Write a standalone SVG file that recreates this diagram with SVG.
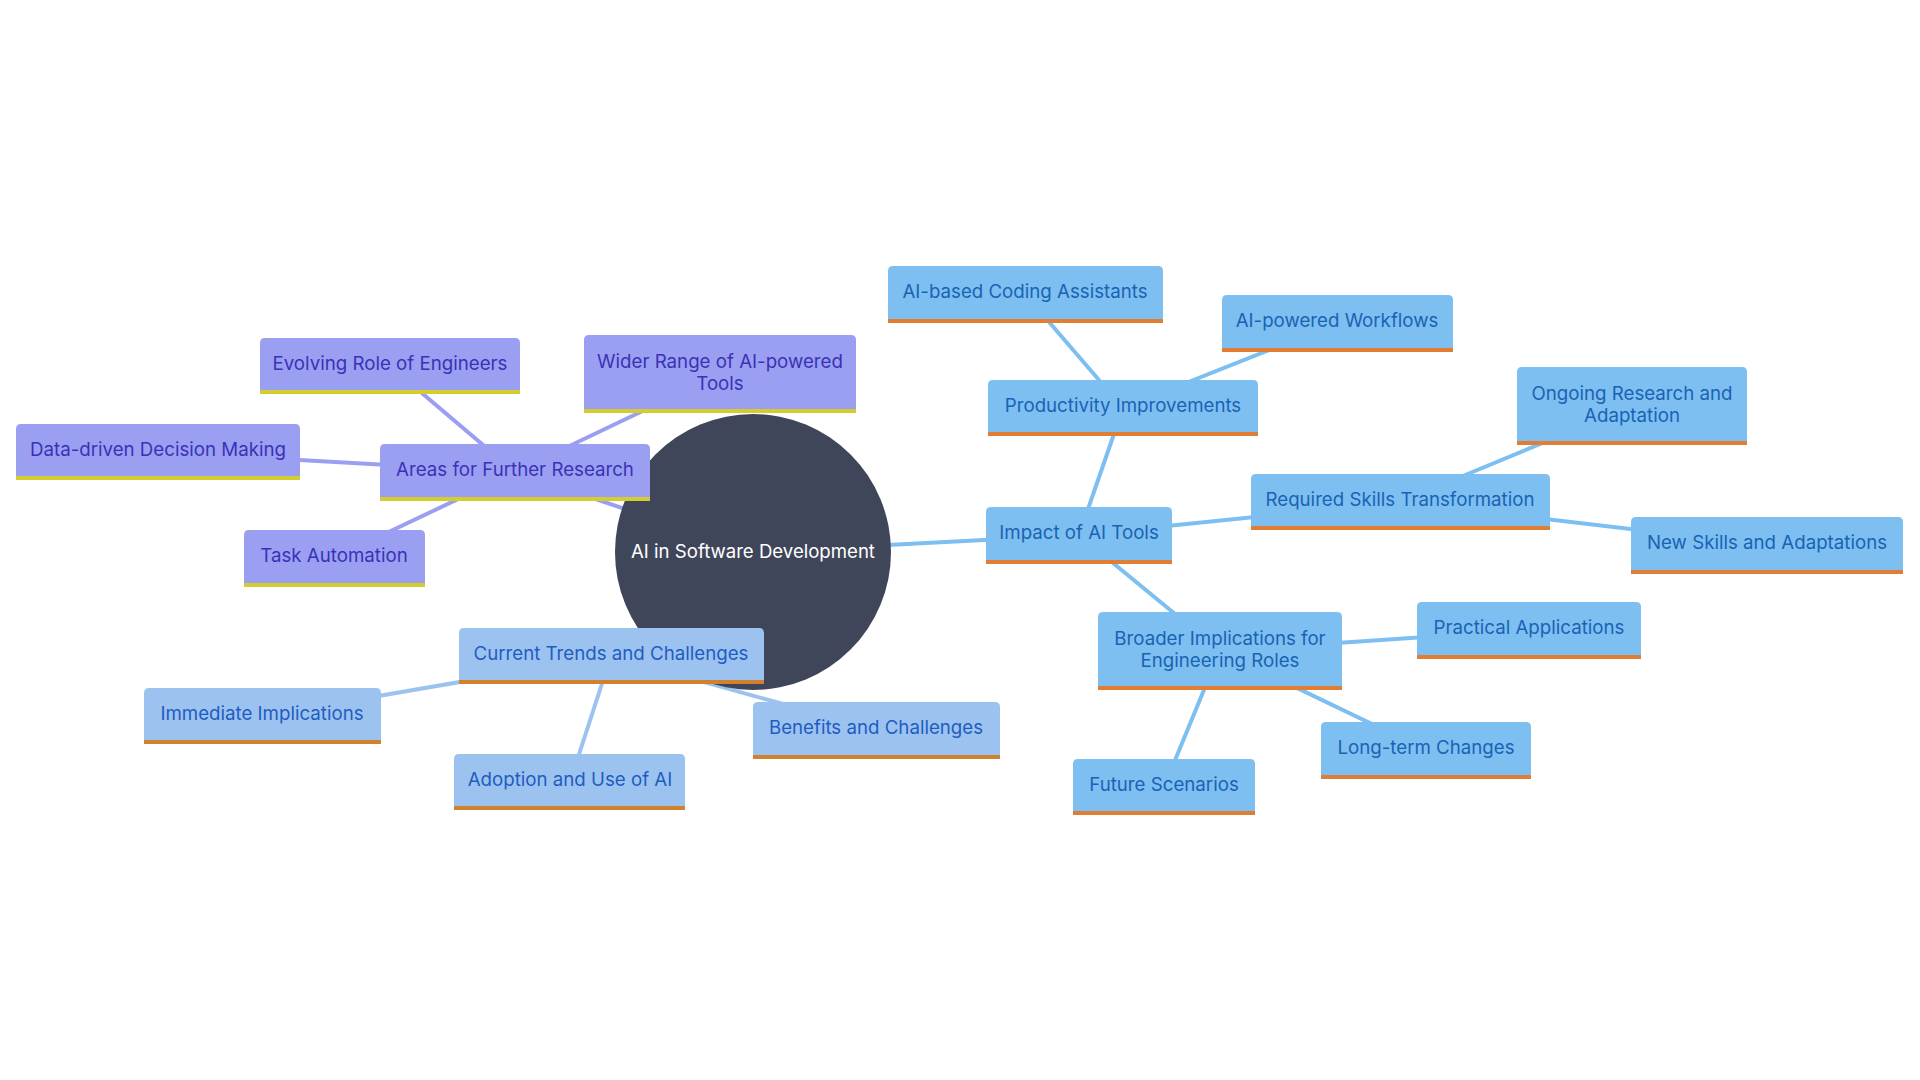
<svg xmlns="http://www.w3.org/2000/svg" width="1920" height="1080" viewBox="0 0 1920 1080">
<style>
text{font-family:Inter,"Open Sans","Liberation Sans",sans-serif;font-size:18.7px;text-anchor:middle}
.s0 path{fill:#9b9ff2}.s0 rect{fill:#d3cd2f}.s0 text{fill:#3a32b5}
.s1 path{fill:#9cc3ef}.s1 rect{fill:#d2822c}.s1 text{fill:#1f5cc2}
.s2 path{fill:#7dbff1}.s2 rect{fill:#e27d36}.s2 text{fill:#1a63b3}
.e0{stroke:#9b9ff2}.e1{stroke:#9cc3ef}.e2{stroke:#7dbff1}
#edges line{stroke-width:4;stroke-linecap:round}
</style>
<rect width="1920" height="1080" fill="#ffffff"/>
<g id="edges">
<line class="e0" x1="753" y1="552" x2="515" y2="472"/>
<line class="e0" x1="515" y1="472" x2="390" y2="366"/>
<line class="e0" x1="515" y1="472" x2="720" y2="374"/>
<line class="e0" x1="515" y1="472" x2="158" y2="452"/>
<line class="e0" x1="515" y1="472" x2="334" y2="558"/>
<line class="e1" x1="753" y1="552" x2="611" y2="656"/>
<line class="e1" x1="611" y1="656" x2="262" y2="716"/>
<line class="e1" x1="611" y1="656" x2="570" y2="782"/>
<line class="e1" x1="611" y1="656" x2="876" y2="730"/>
<line class="e2" x1="753" y1="552" x2="1079" y2="535"/>
<line class="e2" x1="1079" y1="535" x2="1123" y2="408"/>
<line class="e2" x1="1123" y1="408" x2="1025" y2="294"/>
<line class="e2" x1="1123" y1="408" x2="1337" y2="323"/>
<line class="e2" x1="1079" y1="535" x2="1400" y2="502"/>
<line class="e2" x1="1400" y1="502" x2="1632" y2="406"/>
<line class="e2" x1="1400" y1="502" x2="1767" y2="545"/>
<line class="e2" x1="1079" y1="535" x2="1220" y2="651"/>
<line class="e2" x1="1220" y1="651" x2="1529" y2="630"/>
<line class="e2" x1="1220" y1="651" x2="1426" y2="750"/>
<line class="e2" x1="1220" y1="651" x2="1164" y2="787"/>
</g>
<g id="root">
<circle cx="753" cy="552" r="138" fill="#404659"/>
<text x="753" y="558" fill="#ffffff" style="font-size:18.6px">AI in Software Development</text>
</g>
<g id="n-areas" class="s0"><path d="M380,501V449Q380,444 385,444H645Q650,444 650,449V501Z"/><rect x="380" y="497" width="270" height="4"/><text x="515" y="476">Areas for Further Research</text></g>
<g id="n-evolving" class="s0"><path d="M260,394V343Q260,338 265,338H515Q520,338 520,343V394Z"/><rect x="260" y="390" width="260" height="4"/><text x="390" y="370">Evolving Role of Engineers</text></g>
<g id="n-wider" class="s0"><path d="M584,413V340Q584,335 589,335H851Q856,335 856,340V413Z"/><rect x="584" y="409" width="272" height="4"/><text x="720" y="368">Wider Range of AI-powered</text><text x="720" y="390">Tools</text></g>
<g id="n-data" class="s0"><path d="M16,480V429Q16,424 21,424H295Q300,424 300,429V480Z"/><rect x="16" y="476" width="284" height="4"/><text x="158" y="456">Data-driven Decision Making</text></g>
<g id="n-task" class="s0"><path d="M244,587V535Q244,530 249,530H420Q425,530 425,535V587Z"/><rect x="244" y="583" width="181" height="4"/><text x="334" y="562">Task Automation</text></g>
<g id="n-current" class="s1"><path d="M459,684V633Q459,628 464,628H759Q764,628 764,633V684Z"/><rect x="459" y="680" width="305" height="4"/><text x="611" y="660">Current Trends and Challenges</text></g>
<g id="n-immediate" class="s1"><path d="M144,744V693Q144,688 149,688H376Q381,688 381,693V744Z"/><rect x="144" y="740" width="237" height="4"/><text x="262" y="720">Immediate Implications</text></g>
<g id="n-adoption" class="s1"><path d="M454,810V759Q454,754 459,754H680Q685,754 685,759V810Z"/><rect x="454" y="806" width="231" height="4"/><text x="570" y="786">Adoption and Use of AI</text></g>
<g id="n-benefits" class="s1"><path d="M753,759V707Q753,702 758,702H995Q1000,702 1000,707V759Z"/><rect x="753" y="755" width="247" height="4"/><text x="876" y="734">Benefits and Challenges</text></g>
<g id="n-impact" class="s2"><path d="M986,564V512Q986,507 991,507H1167Q1172,507 1172,512V564Z"/><rect x="986" y="560" width="186" height="4"/><text x="1079" y="539">Impact of AI Tools</text></g>
<g id="n-productivity" class="s2"><path d="M988,436V385Q988,380 993,380H1253Q1258,380 1258,385V436Z"/><rect x="988" y="432" width="270" height="4"/><text x="1123" y="412">Productivity Improvements</text></g>
<g id="n-coding" class="s2"><path d="M888,323V271Q888,266 893,266H1158Q1163,266 1163,271V323Z"/><rect x="888" y="319" width="275" height="4"/><text x="1025" y="298">AI-based Coding Assistants</text></g>
<g id="n-workflows" class="s2"><path d="M1222,352V300Q1222,295 1227,295H1448Q1453,295 1453,300V352Z"/><rect x="1222" y="348" width="231" height="4"/><text x="1337" y="327">AI-powered Workflows</text></g>
<g id="n-skills" class="s2"><path d="M1251,530V479Q1251,474 1256,474H1545Q1550,474 1550,479V530Z"/><rect x="1251" y="526" width="299" height="4"/><text x="1400" y="506">Required Skills Transformation</text></g>
<g id="n-ongoing" class="s2"><path d="M1517,445V372Q1517,367 1522,367H1742Q1747,367 1747,372V445Z"/><rect x="1517" y="441" width="230" height="4"/><text x="1632" y="400">Ongoing Research and</text><text x="1632" y="422">Adaptation</text></g>
<g id="n-new" class="s2"><path d="M1631,574V522Q1631,517 1636,517H1898Q1903,517 1903,522V574Z"/><rect x="1631" y="570" width="272" height="4"/><text x="1767" y="549">New Skills and Adaptations</text></g>
<g id="n-broader" class="s2"><path d="M1098,690V617Q1098,612 1103,612H1337Q1342,612 1342,617V690Z"/><rect x="1098" y="686" width="244" height="4"/><text x="1220" y="645">Broader Implications for</text><text x="1220" y="667">Engineering Roles</text></g>
<g id="n-practical" class="s2"><path d="M1417,659V607Q1417,602 1422,602H1636Q1641,602 1641,607V659Z"/><rect x="1417" y="655" width="224" height="4"/><text x="1529" y="634">Practical Applications</text></g>
<g id="n-longterm" class="s2"><path d="M1321,779V727Q1321,722 1326,722H1526Q1531,722 1531,727V779Z"/><rect x="1321" y="775" width="210" height="4"/><text x="1426" y="754">Long-term Changes</text></g>
<g id="n-future" class="s2"><path d="M1073,815V764Q1073,759 1078,759H1250Q1255,759 1255,764V815Z"/><rect x="1073" y="811" width="182" height="4"/><text x="1164" y="791">Future Scenarios</text></g>
</svg>
